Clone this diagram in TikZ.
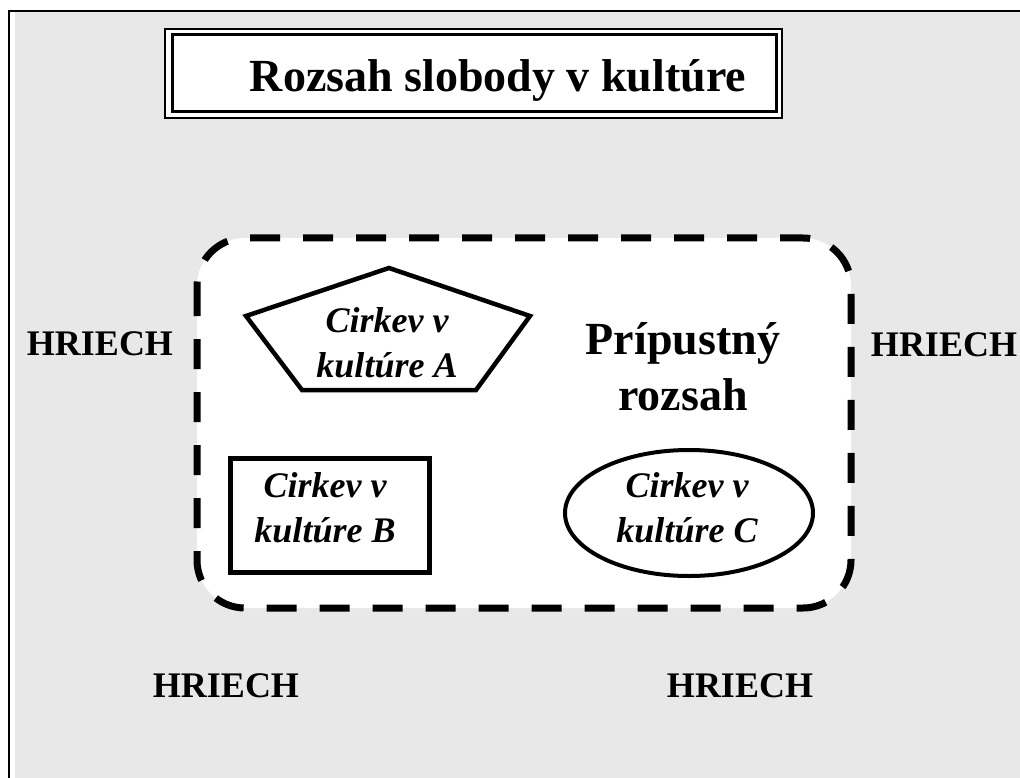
\documentclass[tikz,border=0pt]{standalone}
\usepackage{fontspec}
\setmainfont{Liberation Serif}
\usetikzlibrary{shapes.geometric}
\definecolor{bggray}{HTML}{E8E8E8}
\tikzset{
  sinlabel/.style={font=\fontsize{36}{43}\selectfont\bfseries, anchor=base, inner sep=0pt},
  churchtext/.style={font=\fontsize{36}{45}\selectfont\bfseries\itshape, align=center, inner sep=0pt},
  bigtext/.style={font=\fontsize{46}{56}\selectfont\bfseries, align=center, inner sep=0pt},
  thickline/.style={line width=4.5pt, black},
}
\begin{document}
\begin{tikzpicture}[x=1pt,y=-1pt]
\useasboundingbox (0,0) rectangle (1020,778);
\fill[white] (0,0) rectangle (1020,778);
\fill[bggray] (15,12) rectangle (1020,778);
\draw[line width=2.5pt] (9,778) -- (9,11) -- (1020,11);

% title box
\fill[white] (165,29) rectangle (782,118);
\draw[line width=2pt] (165,29) rectangle (782,118);
\draw[line width=3pt] (172,35) rectangle (776,112);
\node[font=\fontsize{46}{56}\selectfont\bfseries, anchor=base, inner sep=0pt] (title) at (498,92) {Rozsah slobody v kultúre};

% permissible range
\draw[line width=7pt, dash pattern=on 30pt off 23pt, rounded corners=48pt, fill=white] (197,238) rectangle (851,608);
\node[bigtext] (range) at (683,367) {Prípustný\\rozsah};

% pentagon A
\coordinate (pT) at (389,268);
\coordinate (pL) at (246,316);
\coordinate (pR) at (530,316);
\coordinate (pBR) at (476,390);
\coordinate (pBL) at (302,390);
\draw[thickline] (pT) -- (pR) -- (pBR) -- (pBL) -- (pL) -- cycle;
\node[churchtext] (textA) at (387,343) {Cirkev v\\kultúre A};

% rectangle B
\node[draw, thickline, minimum width=199pt, minimum height=114pt, inner sep=0pt] (boxB) at (330,515.5) {};
\node[churchtext] (textB) at (325,507.5) {Cirkev v\\kultúre B};

% ellipse C
\node[draw, ellipse, line width=4pt, minimum width=248pt, minimum height=126pt, inner sep=0pt] (ellC) at (689,513) {};
\node[churchtext] (textC) at (687,507.5) {Cirkev v\\kultúre C};

% sin labels
\node[sinlabel] (sinL) at (100,355) {HRIECH};
\node[sinlabel] (sinR) at (944,356) {HRIECH};
\node[sinlabel] (sinBL) at (226,697) {HRIECH};
\node[sinlabel] (sinBR) at (740,697) {HRIECH};
\end{tikzpicture}
\end{document}
